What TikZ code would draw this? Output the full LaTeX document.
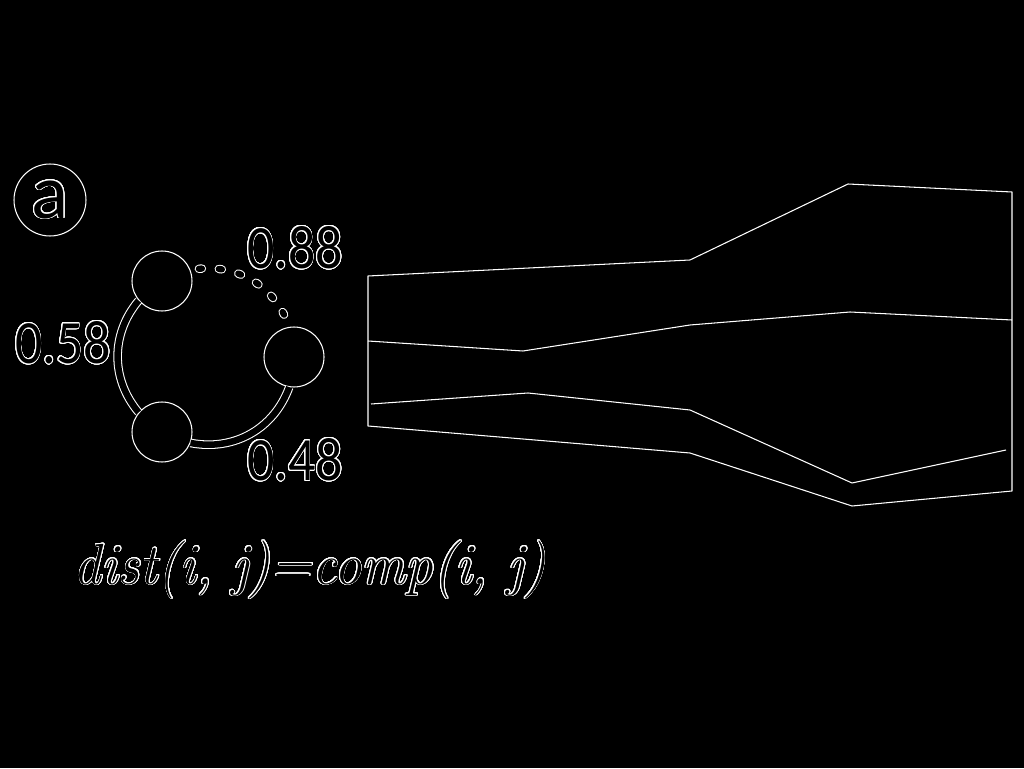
\documentclass[tikz,border=0pt]{standalone}
\usepackage{fontspec}
\setsansfont{Carlito}
\usepackage{contour}
\contourlength{0.5pt}
\contournumber{32}
\usetikzlibrary{positioning}
\tikzset{
  site/.style={circle,draw=white,fill=black,line width=.6pt,minimum size=1.2cm,inner sep=0pt},
  tag/.style={circle,draw=white,line width=.6pt,minimum size=1.44cm,inner sep=0pt,text=black,font=\sffamily\fontsize{44}{44}\selectfont},
  lab/.style={text=black,inner sep=0pt,font=\sffamily\fontsize{35}{35}\selectfont},
  formula/.style={text=black,inner sep=0pt,font=\itshape\fontsize{33}{33}\selectfont},
  bond/.style={draw=white,line width=.6pt,double=black,double distance=1.3mm},
  weakout/.style={white,line width=4.8pt,line cap=round,dash pattern=on .6mm off 3.4mm,dash phase=2.3mm},
  weakin/.style={black,line width=3.6pt,line cap=round,dash pattern=on .6mm off 3.4mm,dash phase=2.3mm},
  band/.style={white,line width=.6pt,line join=round},
}
\begin{document}
\begin{tikzpicture}[x=0.02cm,y=0.02cm]
  \path[use as bounding box,fill=black] (0,0) rectangle (1024,768);

  \node[tag] (tg) at (50,568) {\contour{white}{a}};

  % three sites on a ring
  \node[site] (s1) at (162,487) {};
  \node[site] (s2) at (294,411) {};
  \node[site] (s3) at (162,336) {};
  \draw[bond] (s1.220) to[out=230,in=130] (s3.140);
  \draw[bond] (s3.339) to[out=349,in=250] (s2.261);
  \draw[weakout] (s1.21) to[out=11,in=109] (s2.99);
  \draw[weakin] (s1.21) to[out=11,in=109] (s2.99);

  \node[lab] (w12) at (295,520) {\scalebox{.88}[1]{\contour{white}{0.88}}};
  \node[lab] (w13) at (63,425) {\scalebox{.88}[1]{\contour{white}{0.58}}};
  \node[lab] (w23) at (295,308) {\scalebox{.88}[1]{\contour{white}{0.48}}};

  \node[formula,anchor=base] (eq) at (310,184)
    {\scalebox{.95}[1]{\contour{white}{dist(i, j)=comp(i, j)}}};

  % stacked bands
  \draw[band] (368,492) -- (690,508) -- (848,584) -- (1012,576)
    -- (1012,277) -- (852,262) -- (690,315) -- (368,342) -- cycle;
  \draw[band] (368,427) -- (523,417) -- (690,443) -- (850,456) -- (1012,448);
  \draw[band] (371,364) -- (528,375) -- (690,358) -- (852,285) -- (1006,318);
\end{tikzpicture}
\end{document}
